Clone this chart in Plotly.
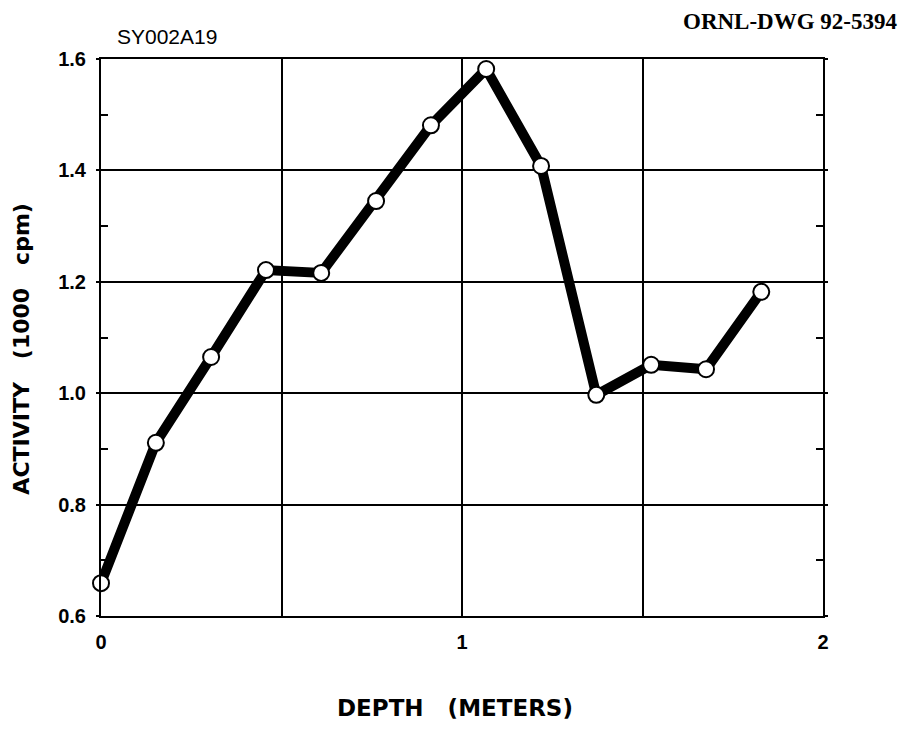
import plotly.graph_objects as go

depth_m = [0.0, 0.152, 0.305, 0.457, 0.610, 0.762, 0.914, 1.067, 1.219, 1.372, 1.524, 1.676, 1.829]
activity = [0.659, 0.911, 1.065, 1.221, 1.216, 1.345, 1.481, 1.582, 1.408, 0.997, 1.051, 1.043, 1.182]

x_tick_vals = [0, 1, 2]
x_tick_text = ["0", "1", "2"]
y_tick_vals = [0.6, 0.8, 1.0, 1.2, 1.4, 1.6]
y_tick_text = ["0.6", "0.8", "1.0", "1.2", "1.4", "1.6"]

tick_font = dict(family="Liberation Sans, Arial, sans-serif", size=20, color="black", weight="bold")
NB = "\u00a0"

fig = go.Figure()
fig.add_trace(go.Scatter(
    x=depth_m, y=activity, mode="lines+markers",
    line=dict(color="black", width=10),
    marker=dict(size=16, color="white", line=dict(color="black", width=2)),
    showlegend=False, cliponaxis=False,
))

fig.update_layout(
    width=907, height=730,
    margin=dict(l=93, r=92, t=51, b=122),
    paper_bgcolor="white", plot_bgcolor="white",
    xaxis=dict(
        range=[0, 2], tickvals=x_tick_vals, ticktext=x_tick_text,
        showgrid=True, gridcolor="black", gridwidth=1.5,
        showline=True, linecolor="black", linewidth=2, mirror=True,
        ticks="", tickfont=tick_font, zeroline=False, ticklabelstandoff=7,
        minor=dict(tickvals=[0.5, 1.5], showgrid=True, gridcolor="black", gridwidth=1.5, ticks=""),
    ),
    yaxis=dict(
        range=[0.6, 1.6], tickvals=y_tick_vals, ticktext=y_tick_text,
        showgrid=True, gridcolor="black", gridwidth=1.5,
        showline=True, linecolor="black", linewidth=2, mirror="ticks",
        ticks="outside", ticklen=3, tickwidth=2, tickcolor="black",
        tickfont=tick_font, zeroline=False, ticklabelstandoff=6,
        minor=dict(tickvals=[0.7, 0.9, 1.1, 1.3, 1.5], ticks="inside", ticklen=7,
                   tickwidth=2, tickcolor="black", showgrid=False),
    ),
    annotations=[
        dict(text="DEPTH" + NB * 3 + "(METERS)", xref="paper", yref="paper", x=0.49, y=0,
             xanchor="center", yanchor="middle", yshift=-92, showarrow=False,
             font=dict(family="DejaVu Sans, sans-serif", size=23, color="black", weight="bold")),
        dict(text="ACTIVITY" + NB * 3 + "(1000" + NB * 3 + "cpm)", xref="paper", yref="paper", x=0, y=0.48,
             xanchor="center", yanchor="middle", xshift=-79, textangle=-90, showarrow=False,
             font=dict(family="DejaVu Sans, sans-serif", size=22, color="black", weight="bold")),
        dict(text="SY002A19", xref="paper", yref="paper", x=0, y=1,
             xanchor="left", yanchor="middle", xshift=14, yshift=23, showarrow=False,
             font=dict(family="Liberation Sans, Arial, sans-serif", size=21, color="black")),
        dict(text="ORNL-DWG 92-5394", xref="paper", yref="paper", x=1, y=1,
             xanchor="right", yanchor="middle", xshift=77, yshift=38, showarrow=False,
             font=dict(family="Liberation Serif, Times New Roman, serif", size=23, color="black", weight="bold")),
    ],
)

fig.write_html("out.html")
